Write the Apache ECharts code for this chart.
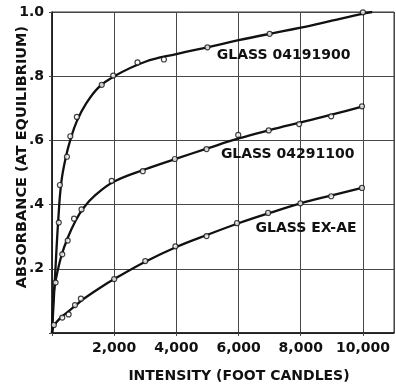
<!DOCTYPE html>
<html>
<head>
<meta charset="utf-8">
<script src="https://cdn.jsdelivr.net/npm/echarts@6/dist/echarts.min.js"></script>
<style>
  html, body { margin: 0; padding: 0; background: #fff; }
  #chart { width: 396px; height: 387px; }
</style>
</head>
<body>
<div id="chart"></div>
<script>
// Light-induced absorbance of three photochromic glasses vs. illumination intensity.
const xTicks = [0, 2000, 4000, 6000, 8000, 10000];
const yTicks = [0, 0.2, 0.4, 0.6, 0.8, 1.0];

// Fitted curves (intensity, absorbance)
const curve04191900 = [
  [0, 0], [100, 0.18], [200, 0.35], [300, 0.47], [450, 0.55], [600, 0.605],
  [800, 0.66], [1100, 0.715], [1500, 0.765], [2000, 0.80], [3000, 0.845],
  [4000, 0.869], [5000, 0.89], [6000, 0.912], [7000, 0.932], [8000, 0.951],
  [9000, 0.973], [10000, 0.995], [10300, 1.0]
];
const curve04291100 = [
  [0, 0], [50, 0.12], [120, 0.165], [300, 0.24], [500, 0.295], [750, 0.348],
  [1000, 0.388], [1400, 0.43], [2000, 0.472], [3000, 0.51], [4000, 0.543],
  [5000, 0.575], [6000, 0.606], [7000, 0.632], [8000, 0.656], [9000, 0.68],
  [10000, 0.706]
];
const curveEXAE = [
  [0, 0], [60, 0.022], [250, 0.045], [500, 0.065], [750, 0.085],
  [1000, 0.105], [1500, 0.138], [2000, 0.168], [3000, 0.222], [4000, 0.268],
  [5000, 0.306], [6000, 0.342], [7000, 0.374], [8000, 0.404], [9000, 0.429],
  [10000, 0.453]
];

// Measured points
const pts04191900 = [
  [218, 0.344], [255, 0.461], [480, 0.549], [590, 0.613], [800, 0.673],
  [1600, 0.773], [1970, 0.802], [2750, 0.843], [3600, 0.852], [5000, 0.89],
  [7000, 0.932], [10000, 0.999]
];
const pts04291100 = [
  [115, 0.157], [330, 0.245], [505, 0.288], [710, 0.356], [950, 0.385],
  [1920, 0.474], [2920, 0.504], [3950, 0.542], [4970, 0.573], [5990, 0.617],
  [6970, 0.631], [7950, 0.651], [8980, 0.675], [9970, 0.706]
];
const ptsEXAE = [
  [60, 0.025], [330, 0.048], [535, 0.058], [740, 0.087], [930, 0.107],
  [2000, 0.168], [3000, 0.224], [3970, 0.27], [4970, 0.302], [5950, 0.342],
  [6950, 0.374], [7990, 0.404], [8980, 0.426], [9970, 0.452]
];

// Curve names and where each name sits (intensity, absorbance)
const glassNames = ['GLASS 04191900', 'GLASS 04291100', 'GLASS EX-AE'];
const nameAnchors = [[7450, 0.866], [7580, 0.558], [8170, 0.327]];

const xTitle = 'INTENSITY (FOOT CANDLES)';
const yTitle = 'ABSORBANCE (AT EQUILIBRIUM)';

const INK = '#111';
const GRID = '#484848';
const FONT = 'DejaVu Sans';

function curveSeries(data) {
  return {
    type: 'line', data: data, smooth: 0.4,
    showSymbol: false, silent: true,
    lineStyle: { color: INK, width: 2.3 }, z: 3
  };
}
function pointSeries(data) {
  return {
    type: 'scatter', data: data, symbol: 'circle', symbolSize: 5,
    itemStyle: { color: '#fff', borderColor: INK, borderWidth: 1.2 }, z: 4
  };
}

const chart = echarts.init(document.getElementById('chart'), null, { renderer: 'canvas' });
chart.setOption({
  backgroundColor: '#fff',
  animation: false,
  grid: {
    left: 52, top: 12, right: 2, bottom: 54,
    show: true, borderColor: '#333', borderWidth: 1
  },
  xAxis: {
    type: 'value', min: 0, max: 11000, interval: 2000,
    axisLine: { show: true, lineStyle: { color: INK, width: 1.5 } },
    axisTick: { show: true, length: 3, lineStyle: { color: GRID } },
    splitLine: { show: true, lineStyle: { color: GRID, width: 1 } },
    axisLabel: {
      margin: 8, color: INK, fontFamily: FONT, fontSize: 14, fontWeight: 'bold',
      showMaxLabel: false,
      formatter: v => (v === 0 || xTicks.indexOf(v) < 0) ? '' : v.toLocaleString('en-US')
    }
  },
  yAxis: {
    type: 'value', min: 0, max: 1.0, interval: 0.2,
    axisLine: { show: true, lineStyle: { color: INK, width: 1.5 } },
    axisTick: { show: true, length: 3, lineStyle: { color: GRID } },
    splitLine: { show: true, lineStyle: { color: GRID, width: 1 } },
    axisLabel: {
      margin: 8, color: INK, fontFamily: FONT, fontSize: 14, fontWeight: 'bold',
      formatter: v => {
        const t = yTicks.find(k => Math.abs(k - v) < 1e-9);
        if (t === undefined || t === 0) return '';
        return t >= 1 ? t.toFixed(1) : t.toFixed(1).replace(/^0/, '');
      }
    }
  },
  series: [
    curveSeries(curve04191900), pointSeries(pts04191900),
    curveSeries(curve04291100), pointSeries(pts04291100),
    curveSeries(curveEXAE), pointSeries(ptsEXAE)
  ]
});

// Curve names and axis titles
const graphics = glassNames.map((name, i) => {
  const p = chart.convertToPixel({ gridIndex: 0 }, nameAnchors[i]);
  return {
    type: 'text', x: p[0], y: p[1], z: 10,
    style: {
      text: name, fill: INK, font: 'bold 14px "DejaVu Sans"',
      align: 'center', verticalAlign: 'middle'
    }
  };
});
graphics.push({
  type: 'text', x: 239, y: 376, z: 10,
  style: {
    text: xTitle, fill: INK, font: 'bold 14px "DejaVu Sans"',
    align: 'center', verticalAlign: 'middle'
  }
});
graphics.push({
  type: 'text', x: 22, y: 157, rotation: Math.PI / 2, z: 10,
  style: {
    text: yTitle, fill: INK, font: 'bold 14.5px "DejaVu Sans"',
    align: 'center', verticalAlign: 'middle'
  }
});
chart.setOption({ graphic: graphics });
</script>
</body>
</html>
